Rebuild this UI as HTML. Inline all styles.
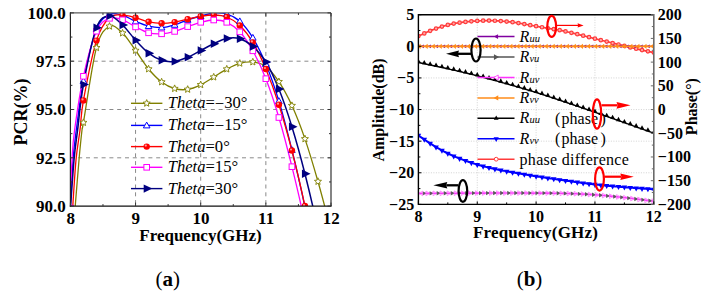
<!DOCTYPE html>
<html><head><meta charset="utf-8"><style>
html,body{margin:0;padding:0;background:#fff;}
body{width:709px;height:294px;overflow:hidden;}
svg{display:block;}
text{font-family:"Liberation Serif",serif;fill:#000;}
.bl{font-weight:bold;font-size:17px;}
.br{font-weight:bold;font-size:16px;}
.lg{font-size:16.6px;}
.ri{font-size:16px;font-style:italic;}
.rl{font-size:16px;}
.cap{font-family:"Liberation Serif",serif;font-size:21px;}
</style></head><body>
<svg width="709" height="294" viewBox="0 0 709 294">
<defs>
<clipPath id="clL"><rect x="70.40" y="12.90" width="260.60" height="193.20"/></clipPath>
<clipPath id="clR"><rect x="418.40" y="14.70" width="235.40" height="189.70"/></clipPath>
</defs>
<rect width="709" height="294" fill="#fff"/>
<g clip-path="url(#clL)">
<line x1="135.55" y1="12.90" x2="135.55" y2="206.10" stroke="#8a8a8a" stroke-width="1" stroke-dasharray="4,3.8"/>
<line x1="200.70" y1="12.90" x2="200.70" y2="206.10" stroke="#8a8a8a" stroke-width="1" stroke-dasharray="4,3.8"/>
<line x1="265.85" y1="12.90" x2="265.85" y2="206.10" stroke="#8a8a8a" stroke-width="1" stroke-dasharray="4,3.8"/>
<line x1="70.40" y1="61.20" x2="331.00" y2="61.20" stroke="#8a8a8a" stroke-width="1" stroke-dasharray="4,3.8"/>
<line x1="70.40" y1="109.50" x2="331.00" y2="109.50" stroke="#8a8a8a" stroke-width="1" stroke-dasharray="4,3.8"/>
<line x1="70.40" y1="157.80" x2="331.00" y2="157.80" stroke="#8a8a8a" stroke-width="1" stroke-dasharray="4,3.8"/>
<path d="M74.60,214.00 C75.33,205.00 77.77,174.00 79.00,160.00 C80.23,146.00 81.26,136.23 82.00,130.00 C82.74,123.77 81.02,136.32 83.43,122.60 C85.84,108.88 92.12,63.75 96.46,47.70 C100.80,31.65 105.15,28.73 109.49,26.30 C113.83,23.87 118.18,29.07 122.52,33.10 C126.86,37.13 131.21,44.52 135.55,50.50 C139.89,56.48 144.24,63.75 148.58,69.00 C152.92,74.25 157.27,78.73 161.61,82.00 C165.95,85.27 170.30,87.37 174.64,88.60 C178.98,89.83 183.33,90.03 187.67,89.40 C192.01,88.77 196.36,86.85 200.70,84.80 C205.04,82.75 209.39,79.72 213.73,77.10 C218.07,74.48 222.42,71.40 226.76,69.10 C231.10,66.80 235.45,64.48 239.79,63.30 C244.13,62.12 248.48,61.47 252.82,62.00 C257.16,62.53 261.51,63.22 265.85,66.50 C270.19,69.78 274.54,75.18 278.88,81.70 C283.22,88.22 287.57,96.07 291.91,105.60 C296.25,115.13 300.60,126.25 304.94,138.90 C309.28,151.55 313.63,166.32 317.97,181.50 C322.31,196.68 328.83,221.92 331.00,230.00" fill="none" stroke="#808000" stroke-width="1.3"/>
<path d="M70.00,214.00 C70.50,205.00 71.95,174.00 73.00,160.00 C74.05,146.00 74.56,143.17 76.30,130.00 C78.04,116.83 80.07,97.75 83.43,81.00 C86.79,64.25 92.12,40.58 96.46,29.50 C100.80,18.42 105.15,16.88 109.49,14.50 C113.83,12.12 118.18,14.05 122.52,15.20 C126.86,16.35 131.21,19.58 135.55,21.40 C139.89,23.22 144.24,25.08 148.58,26.10 C152.92,27.12 157.27,27.72 161.61,27.50 C165.95,27.28 170.30,26.08 174.64,24.80 C178.98,23.52 183.33,21.27 187.67,19.80 C192.01,18.33 196.36,17.13 200.70,16.00 C205.04,14.87 209.39,13.33 213.73,13.00 C218.07,12.67 222.42,12.63 226.76,14.00 C231.10,15.37 235.45,17.25 239.79,21.20 C244.13,25.15 248.48,30.57 252.82,37.70 C257.16,44.83 261.51,53.45 265.85,64.00 C270.19,74.55 274.54,86.67 278.88,101.00 C283.22,115.33 287.57,132.33 291.91,150.00 C296.25,167.67 300.60,186.17 304.94,207.00 C309.28,227.83 313.63,252.00 317.97,275.00 C322.31,298.00 328.83,333.33 331.00,345.00" fill="none" stroke="#0000ff" stroke-width="1.3"/>
<path d="M72.40,212.00 C73.00,203.33 74.73,173.67 76.00,160.00 C77.27,146.33 78.76,139.93 80.00,130.00 C81.24,120.07 80.69,115.30 83.43,100.40 C86.17,85.50 92.12,54.42 96.46,40.60 C100.80,26.78 105.15,21.75 109.49,17.50 C113.83,13.25 118.18,15.07 122.52,15.10 C126.86,15.13 131.21,16.58 135.55,17.70 C139.89,18.82 144.24,20.87 148.58,21.80 C152.92,22.73 157.27,23.25 161.61,23.30 C165.95,23.35 170.30,22.78 174.64,22.10 C178.98,21.42 183.33,20.17 187.67,19.20 C192.01,18.23 196.36,17.00 200.70,16.30 C205.04,15.60 209.39,14.88 213.73,15.00 C218.07,15.12 222.42,15.25 226.76,17.00 C231.10,18.75 235.45,21.27 239.79,25.50 C244.13,29.73 248.48,35.15 252.82,42.40 C257.16,49.65 261.51,58.62 265.85,69.00 C270.19,79.38 274.54,91.12 278.88,104.70 C283.22,118.28 287.57,133.62 291.91,150.50 C296.25,167.38 300.60,186.08 304.94,206.00 C309.28,225.92 313.63,247.67 317.97,270.00 C322.31,292.33 328.83,328.33 331.00,340.00" fill="none" stroke="#ff0000" stroke-width="1.3"/>
<path d="M69.60,214.00 C70.00,205.00 71.17,174.00 72.00,160.00 C72.83,146.00 72.69,143.95 74.60,130.00 C76.50,116.05 79.79,92.77 83.43,76.30 C87.07,59.83 92.12,40.87 96.46,31.20 C100.80,21.53 105.15,20.20 109.49,18.30 C113.83,16.40 118.18,18.37 122.52,19.80 C126.86,21.23 131.21,24.73 135.55,26.90 C139.89,29.07 144.24,31.65 148.58,32.80 C152.92,33.95 157.27,34.03 161.61,33.80 C165.95,33.57 170.30,32.60 174.64,31.40 C178.98,30.20 183.33,28.12 187.67,26.60 C192.01,25.08 196.36,23.40 200.70,22.30 C205.04,21.20 209.39,20.00 213.73,20.00 C218.07,20.00 222.42,20.33 226.76,22.30 C231.10,24.27 235.45,27.05 239.79,31.80 C244.13,36.55 248.48,42.98 252.82,50.80 C257.16,58.62 261.51,67.58 265.85,78.70 C270.19,89.82 274.54,102.83 278.88,117.50 C283.22,132.17 287.57,149.12 291.91,166.70 C296.25,184.28 300.60,202.45 304.94,223.00 C309.28,243.55 313.63,267.17 317.97,290.00 C322.31,312.83 328.83,348.33 331.00,360.00" fill="none" stroke="#ff00ff" stroke-width="1.3"/>
<path d="M70.20,212.00 C70.83,203.33 72.77,173.67 74.00,160.00 C75.23,146.33 76.03,142.57 77.60,130.00 C79.17,117.43 80.29,101.63 83.43,84.60 C86.57,67.57 92.12,39.25 96.46,27.80 C100.80,16.35 105.15,16.37 109.49,15.90 C113.83,15.43 118.18,20.95 122.52,25.00 C126.86,29.05 131.21,35.50 135.55,40.20 C139.89,44.90 144.24,49.85 148.58,53.20 C152.92,56.55 157.27,58.93 161.61,60.30 C165.95,61.67 170.30,61.90 174.64,61.40 C178.98,60.90 183.33,59.12 187.67,57.30 C192.01,55.48 196.36,52.77 200.70,50.50 C205.04,48.23 209.39,45.70 213.73,43.70 C218.07,41.70 222.42,39.32 226.76,38.50 C231.10,37.68 235.45,37.47 239.79,38.80 C244.13,40.13 248.48,42.63 252.82,46.50 C257.16,50.37 261.51,54.92 265.85,62.00 C270.19,69.08 274.54,78.22 278.88,89.00 C283.22,99.78 287.57,112.57 291.91,126.70 C296.25,140.83 300.60,156.58 304.94,173.80 C309.28,191.02 313.63,208.97 317.97,230.00 C322.31,251.03 328.83,288.33 331.00,300.00" fill="none" stroke="#000080" stroke-width="1.5"/>
<polygon points="83.43,118.90 84.41,121.25 86.95,121.46 85.01,123.11 85.60,125.59 83.43,124.27 81.26,125.59 81.85,123.11 79.91,121.46 82.45,121.25" fill="#fff" stroke="#808000" stroke-width="0.9"/>
<polygon points="96.46,44.00 97.44,46.35 99.98,46.56 98.04,48.21 98.63,50.69 96.46,49.37 94.29,50.69 94.88,48.21 92.94,46.56 95.48,46.35" fill="#fff" stroke="#808000" stroke-width="0.9"/>
<polygon points="109.49,22.60 110.47,24.95 113.01,25.16 111.07,26.81 111.66,29.29 109.49,27.96 107.32,29.29 107.91,26.81 105.97,25.16 108.51,24.95" fill="#fff" stroke="#808000" stroke-width="0.9"/>
<polygon points="122.52,29.40 123.50,31.75 126.04,31.96 124.10,33.61 124.69,36.09 122.52,34.77 120.35,36.09 120.94,33.61 119.00,31.96 121.54,31.75" fill="#fff" stroke="#808000" stroke-width="0.9"/>
<polygon points="135.55,46.80 136.53,49.15 139.07,49.36 137.13,51.01 137.72,53.49 135.55,52.16 133.38,53.49 133.97,51.01 132.03,49.36 134.57,49.15" fill="#fff" stroke="#808000" stroke-width="0.9"/>
<polygon points="148.58,65.30 149.56,67.65 152.10,67.86 150.16,69.51 150.75,71.99 148.58,70.67 146.41,71.99 147.00,69.51 145.06,67.86 147.60,67.65" fill="#fff" stroke="#808000" stroke-width="0.9"/>
<polygon points="161.61,78.30 162.59,80.65 165.13,80.86 163.19,82.51 163.78,84.99 161.61,83.67 159.44,84.99 160.03,82.51 158.09,80.86 160.63,80.65" fill="#fff" stroke="#808000" stroke-width="0.9"/>
<polygon points="174.64,84.90 175.62,87.25 178.16,87.46 176.22,89.11 176.81,91.59 174.64,90.27 172.47,91.59 173.06,89.11 171.12,87.46 173.66,87.25" fill="#fff" stroke="#808000" stroke-width="0.9"/>
<polygon points="187.67,85.70 188.65,88.05 191.19,88.26 189.25,89.91 189.84,92.39 187.67,91.07 185.50,92.39 186.09,89.91 184.15,88.26 186.69,88.05" fill="#fff" stroke="#808000" stroke-width="0.9"/>
<polygon points="200.70,81.10 201.68,83.45 204.22,83.66 202.28,85.31 202.87,87.79 200.70,86.47 198.53,87.79 199.12,85.31 197.18,83.66 199.72,83.45" fill="#fff" stroke="#808000" stroke-width="0.9"/>
<polygon points="213.73,73.40 214.71,75.75 217.25,75.96 215.31,77.61 215.90,80.09 213.73,78.77 211.56,80.09 212.15,77.61 210.21,75.96 212.75,75.75" fill="#fff" stroke="#808000" stroke-width="0.9"/>
<polygon points="226.76,65.40 227.74,67.75 230.28,67.96 228.34,69.61 228.93,72.09 226.76,70.77 224.59,72.09 225.18,69.61 223.24,67.96 225.78,67.75" fill="#fff" stroke="#808000" stroke-width="0.9"/>
<polygon points="239.79,59.60 240.77,61.95 243.31,62.16 241.37,63.81 241.96,66.29 239.79,64.97 237.62,66.29 238.21,63.81 236.27,62.16 238.81,61.95" fill="#fff" stroke="#808000" stroke-width="0.9"/>
<polygon points="252.82,58.30 253.80,60.65 256.34,60.86 254.40,62.51 254.99,64.99 252.82,63.66 250.65,64.99 251.24,62.51 249.30,60.86 251.84,60.65" fill="#fff" stroke="#808000" stroke-width="0.9"/>
<polygon points="265.85,62.80 266.83,65.15 269.37,65.36 267.43,67.01 268.02,69.49 265.85,68.17 263.68,69.49 264.27,67.01 262.33,65.36 264.87,65.15" fill="#fff" stroke="#808000" stroke-width="0.9"/>
<polygon points="278.88,78.00 279.86,80.35 282.40,80.56 280.46,82.21 281.05,84.69 278.88,83.37 276.71,84.69 277.30,82.21 275.36,80.56 277.90,80.35" fill="#fff" stroke="#808000" stroke-width="0.9"/>
<polygon points="291.91,101.90 292.89,104.25 295.43,104.46 293.49,106.11 294.08,108.59 291.91,107.27 289.74,108.59 290.33,106.11 288.39,104.46 290.93,104.25" fill="#fff" stroke="#808000" stroke-width="0.9"/>
<polygon points="304.94,135.20 305.92,137.55 308.46,137.76 306.52,139.41 307.11,141.89 304.94,140.56 302.77,141.89 303.36,139.41 301.42,137.76 303.96,137.55" fill="#fff" stroke="#808000" stroke-width="0.9"/>
<polygon points="317.97,177.80 318.95,180.15 321.49,180.36 319.55,182.01 320.14,184.49 317.97,183.16 315.80,184.49 316.39,182.01 314.45,180.36 316.99,180.15" fill="#fff" stroke="#808000" stroke-width="0.9"/>
<polygon points="70.40,206.70 67.10,212.47 73.70,212.47" fill="#fff" stroke="#0000ff" stroke-width="1"/>
<polygon points="83.43,77.70 80.13,83.47 86.73,83.47" fill="#fff" stroke="#0000ff" stroke-width="1"/>
<polygon points="96.46,26.20 93.16,31.98 99.76,31.98" fill="#fff" stroke="#0000ff" stroke-width="1"/>
<polygon points="109.49,11.20 106.19,16.98 112.79,16.98" fill="#fff" stroke="#0000ff" stroke-width="1"/>
<polygon points="122.52,11.90 119.22,17.67 125.82,17.67" fill="#fff" stroke="#0000ff" stroke-width="1"/>
<polygon points="135.55,18.10 132.25,23.88 138.85,23.88" fill="#fff" stroke="#0000ff" stroke-width="1"/>
<polygon points="148.58,22.80 145.28,28.58 151.88,28.58" fill="#fff" stroke="#0000ff" stroke-width="1"/>
<polygon points="161.61,24.20 158.31,29.98 164.91,29.98" fill="#fff" stroke="#0000ff" stroke-width="1"/>
<polygon points="174.64,21.50 171.34,27.27 177.94,27.27" fill="#fff" stroke="#0000ff" stroke-width="1"/>
<polygon points="187.67,16.50 184.37,22.27 190.97,22.27" fill="#fff" stroke="#0000ff" stroke-width="1"/>
<polygon points="200.70,12.70 197.40,18.48 204.00,18.48" fill="#fff" stroke="#0000ff" stroke-width="1"/>
<polygon points="213.73,9.70 210.43,15.47 217.03,15.47" fill="#fff" stroke="#0000ff" stroke-width="1"/>
<polygon points="226.76,10.70 223.46,16.48 230.06,16.48" fill="#fff" stroke="#0000ff" stroke-width="1"/>
<polygon points="239.79,17.90 236.49,23.67 243.09,23.67" fill="#fff" stroke="#0000ff" stroke-width="1"/>
<polygon points="252.82,34.40 249.52,40.18 256.12,40.18" fill="#fff" stroke="#0000ff" stroke-width="1"/>
<polygon points="265.85,60.70 262.55,66.47 269.15,66.47" fill="#fff" stroke="#0000ff" stroke-width="1"/>
<polygon points="278.88,97.70 275.58,103.47 282.18,103.47" fill="#fff" stroke="#0000ff" stroke-width="1"/>
<polygon points="291.91,146.70 288.61,152.47 295.21,152.47" fill="#fff" stroke="#0000ff" stroke-width="1"/>
<polygon points="304.94,203.70 301.64,209.47 308.24,209.47" fill="#fff" stroke="#0000ff" stroke-width="1"/>
<circle cx="83.43" cy="100.40" r="3.20" fill="#ff0000"/><circle cx="82.53" cy="99.40" r="1.1" fill="#ff9a9a"/>
<circle cx="96.46" cy="40.60" r="3.20" fill="#ff0000"/><circle cx="95.56" cy="39.60" r="1.1" fill="#ff9a9a"/>
<circle cx="109.49" cy="17.50" r="3.20" fill="#ff0000"/><circle cx="108.59" cy="16.50" r="1.1" fill="#ff9a9a"/>
<circle cx="122.52" cy="15.10" r="3.20" fill="#ff0000"/><circle cx="121.62" cy="14.10" r="1.1" fill="#ff9a9a"/>
<circle cx="135.55" cy="17.70" r="3.20" fill="#ff0000"/><circle cx="134.65" cy="16.70" r="1.1" fill="#ff9a9a"/>
<circle cx="148.58" cy="21.80" r="3.20" fill="#ff0000"/><circle cx="147.68" cy="20.80" r="1.1" fill="#ff9a9a"/>
<circle cx="161.61" cy="23.30" r="3.20" fill="#ff0000"/><circle cx="160.71" cy="22.30" r="1.1" fill="#ff9a9a"/>
<circle cx="174.64" cy="22.10" r="3.20" fill="#ff0000"/><circle cx="173.74" cy="21.10" r="1.1" fill="#ff9a9a"/>
<circle cx="187.67" cy="19.20" r="3.20" fill="#ff0000"/><circle cx="186.77" cy="18.20" r="1.1" fill="#ff9a9a"/>
<circle cx="200.70" cy="16.30" r="3.20" fill="#ff0000"/><circle cx="199.80" cy="15.30" r="1.1" fill="#ff9a9a"/>
<circle cx="213.73" cy="15.00" r="3.20" fill="#ff0000"/><circle cx="212.83" cy="14.00" r="1.1" fill="#ff9a9a"/>
<circle cx="226.76" cy="17.00" r="3.20" fill="#ff0000"/><circle cx="225.86" cy="16.00" r="1.1" fill="#ff9a9a"/>
<circle cx="239.79" cy="25.50" r="3.20" fill="#ff0000"/><circle cx="238.89" cy="24.50" r="1.1" fill="#ff9a9a"/>
<circle cx="252.82" cy="42.40" r="3.20" fill="#ff0000"/><circle cx="251.92" cy="41.40" r="1.1" fill="#ff9a9a"/>
<circle cx="265.85" cy="69.00" r="3.20" fill="#ff0000"/><circle cx="264.95" cy="68.00" r="1.1" fill="#ff9a9a"/>
<circle cx="278.88" cy="104.70" r="3.20" fill="#ff0000"/><circle cx="277.98" cy="103.70" r="1.1" fill="#ff9a9a"/>
<circle cx="291.91" cy="150.50" r="3.20" fill="#ff0000"/><circle cx="291.01" cy="149.50" r="1.1" fill="#ff9a9a"/>
<circle cx="304.94" cy="206.00" r="3.20" fill="#ff0000"/><circle cx="304.04" cy="205.00" r="1.1" fill="#ff9a9a"/>
<rect x="67.60" y="205.20" width="5.60" height="5.60" fill="#fff" stroke="#ff00ff" stroke-width="1"/>
<rect x="80.63" y="73.50" width="5.60" height="5.60" fill="#fff" stroke="#ff00ff" stroke-width="1"/>
<rect x="93.66" y="28.40" width="5.60" height="5.60" fill="#fff" stroke="#ff00ff" stroke-width="1"/>
<rect x="106.69" y="15.50" width="5.60" height="5.60" fill="#fff" stroke="#ff00ff" stroke-width="1"/>
<rect x="119.72" y="17.00" width="5.60" height="5.60" fill="#fff" stroke="#ff00ff" stroke-width="1"/>
<rect x="132.75" y="24.10" width="5.60" height="5.60" fill="#fff" stroke="#ff00ff" stroke-width="1"/>
<rect x="145.78" y="30.00" width="5.60" height="5.60" fill="#fff" stroke="#ff00ff" stroke-width="1"/>
<rect x="158.81" y="31.00" width="5.60" height="5.60" fill="#fff" stroke="#ff00ff" stroke-width="1"/>
<rect x="171.84" y="28.60" width="5.60" height="5.60" fill="#fff" stroke="#ff00ff" stroke-width="1"/>
<rect x="184.87" y="23.80" width="5.60" height="5.60" fill="#fff" stroke="#ff00ff" stroke-width="1"/>
<rect x="197.90" y="19.50" width="5.60" height="5.60" fill="#fff" stroke="#ff00ff" stroke-width="1"/>
<rect x="210.93" y="17.20" width="5.60" height="5.60" fill="#fff" stroke="#ff00ff" stroke-width="1"/>
<rect x="223.96" y="19.50" width="5.60" height="5.60" fill="#fff" stroke="#ff00ff" stroke-width="1"/>
<rect x="236.99" y="29.00" width="5.60" height="5.60" fill="#fff" stroke="#ff00ff" stroke-width="1"/>
<rect x="250.02" y="48.00" width="5.60" height="5.60" fill="#fff" stroke="#ff00ff" stroke-width="1"/>
<rect x="263.05" y="75.90" width="5.60" height="5.60" fill="#fff" stroke="#ff00ff" stroke-width="1"/>
<rect x="276.08" y="114.70" width="5.60" height="5.60" fill="#fff" stroke="#ff00ff" stroke-width="1"/>
<rect x="289.11" y="163.90" width="5.60" height="5.60" fill="#fff" stroke="#ff00ff" stroke-width="1"/>
<polygon points="67.40,203.80 67.40,212.20 76.01,208.00" fill="#000080"/>
<polygon points="80.43,80.40 80.43,88.80 89.04,84.60" fill="#000080"/>
<polygon points="93.46,23.60 93.46,32.00 102.07,27.80" fill="#000080"/>
<polygon points="106.49,11.70 106.49,20.10 115.10,15.90" fill="#000080"/>
<polygon points="119.52,20.80 119.52,29.20 128.13,25.00" fill="#000080"/>
<polygon points="132.55,36.00 132.55,44.40 141.16,40.20" fill="#000080"/>
<polygon points="145.58,49.00 145.58,57.40 154.19,53.20" fill="#000080"/>
<polygon points="158.61,56.10 158.61,64.50 167.22,60.30" fill="#000080"/>
<polygon points="171.64,57.20 171.64,65.60 180.25,61.40" fill="#000080"/>
<polygon points="184.67,53.10 184.67,61.50 193.28,57.30" fill="#000080"/>
<polygon points="197.70,46.30 197.70,54.70 206.31,50.50" fill="#000080"/>
<polygon points="210.73,39.50 210.73,47.90 219.34,43.70" fill="#000080"/>
<polygon points="223.76,34.30 223.76,42.70 232.37,38.50" fill="#000080"/>
<polygon points="236.79,34.60 236.79,43.00 245.40,38.80" fill="#000080"/>
<polygon points="249.82,42.30 249.82,50.70 258.43,46.50" fill="#000080"/>
<polygon points="262.85,57.80 262.85,66.20 271.46,62.00" fill="#000080"/>
<polygon points="275.88,84.80 275.88,93.20 284.49,89.00" fill="#000080"/>
<polygon points="288.91,122.50 288.91,130.90 297.52,126.70" fill="#000080"/>
<polygon points="301.94,169.60 301.94,178.00 310.55,173.80" fill="#000080"/>
</g>
<line x1="70.40" y1="12.90" x2="331.00" y2="12.90" stroke="#5a5a5a" stroke-width="1.3"/>
<line x1="331.00" y1="12.90" x2="331.00" y2="206.10" stroke="#333" stroke-width="1.2"/>
<line x1="70.40" y1="12.30" x2="70.40" y2="206.70" stroke="#222" stroke-width="1.2"/>
<line x1="69.80" y1="206.10" x2="331.60" y2="206.10" stroke="#111" stroke-width="1.3"/>
<line x1="70.40" y1="206.10" x2="70.40" y2="202.60" stroke="#333" stroke-width="1"/>
<line x1="70.40" y1="12.90" x2="70.40" y2="16.40" stroke="#333" stroke-width="1"/>
<line x1="102.98" y1="206.10" x2="102.98" y2="204.10" stroke="#333" stroke-width="1"/>
<line x1="102.98" y1="12.90" x2="102.98" y2="14.90" stroke="#333" stroke-width="1"/>
<line x1="135.55" y1="206.10" x2="135.55" y2="202.60" stroke="#333" stroke-width="1"/>
<line x1="135.55" y1="12.90" x2="135.55" y2="16.40" stroke="#333" stroke-width="1"/>
<line x1="168.12" y1="206.10" x2="168.12" y2="204.10" stroke="#333" stroke-width="1"/>
<line x1="168.12" y1="12.90" x2="168.12" y2="14.90" stroke="#333" stroke-width="1"/>
<line x1="200.70" y1="206.10" x2="200.70" y2="202.60" stroke="#333" stroke-width="1"/>
<line x1="200.70" y1="12.90" x2="200.70" y2="16.40" stroke="#333" stroke-width="1"/>
<line x1="233.28" y1="206.10" x2="233.28" y2="204.10" stroke="#333" stroke-width="1"/>
<line x1="233.28" y1="12.90" x2="233.28" y2="14.90" stroke="#333" stroke-width="1"/>
<line x1="265.85" y1="206.10" x2="265.85" y2="202.60" stroke="#333" stroke-width="1"/>
<line x1="265.85" y1="12.90" x2="265.85" y2="16.40" stroke="#333" stroke-width="1"/>
<line x1="298.43" y1="206.10" x2="298.43" y2="204.10" stroke="#333" stroke-width="1"/>
<line x1="298.43" y1="12.90" x2="298.43" y2="14.90" stroke="#333" stroke-width="1"/>
<line x1="331.00" y1="206.10" x2="331.00" y2="202.60" stroke="#333" stroke-width="1"/>
<line x1="331.00" y1="12.90" x2="331.00" y2="16.40" stroke="#333" stroke-width="1"/>
<line x1="70.40" y1="206.10" x2="73.90" y2="206.10" stroke="#333" stroke-width="1"/>
<line x1="331.00" y1="206.10" x2="327.50" y2="206.10" stroke="#333" stroke-width="1"/>
<line x1="70.40" y1="181.95" x2="72.40" y2="181.95" stroke="#333" stroke-width="1"/>
<line x1="331.00" y1="181.95" x2="329.00" y2="181.95" stroke="#333" stroke-width="1"/>
<line x1="70.40" y1="157.80" x2="73.90" y2="157.80" stroke="#333" stroke-width="1"/>
<line x1="331.00" y1="157.80" x2="327.50" y2="157.80" stroke="#333" stroke-width="1"/>
<line x1="70.40" y1="133.65" x2="72.40" y2="133.65" stroke="#333" stroke-width="1"/>
<line x1="331.00" y1="133.65" x2="329.00" y2="133.65" stroke="#333" stroke-width="1"/>
<line x1="70.40" y1="109.50" x2="73.90" y2="109.50" stroke="#333" stroke-width="1"/>
<line x1="331.00" y1="109.50" x2="327.50" y2="109.50" stroke="#333" stroke-width="1"/>
<line x1="70.40" y1="85.35" x2="72.40" y2="85.35" stroke="#333" stroke-width="1"/>
<line x1="331.00" y1="85.35" x2="329.00" y2="85.35" stroke="#333" stroke-width="1"/>
<line x1="70.40" y1="61.20" x2="73.90" y2="61.20" stroke="#333" stroke-width="1"/>
<line x1="331.00" y1="61.20" x2="327.50" y2="61.20" stroke="#333" stroke-width="1"/>
<line x1="70.40" y1="37.05" x2="72.40" y2="37.05" stroke="#333" stroke-width="1"/>
<line x1="331.00" y1="37.05" x2="329.00" y2="37.05" stroke="#333" stroke-width="1"/>
<line x1="70.40" y1="12.90" x2="73.90" y2="12.90" stroke="#333" stroke-width="1"/>
<line x1="331.00" y1="12.90" x2="327.50" y2="12.90" stroke="#333" stroke-width="1"/>
<text x="65.8" y="18.70" text-anchor="end" class="bl">100.0</text>
<text x="65.8" y="67.00" text-anchor="end" class="bl">97.5</text>
<text x="65.8" y="115.30" text-anchor="end" class="bl">95.0</text>
<text x="65.8" y="163.60" text-anchor="end" class="bl">92.5</text>
<text x="65.8" y="211.90" text-anchor="end" class="bl">90.0</text>
<text x="70.70" y="224" text-anchor="middle" class="bl">8</text>
<text x="135.85" y="224" text-anchor="middle" class="bl">9</text>
<text x="201.00" y="224" text-anchor="middle" class="bl">10</text>
<text x="266.15" y="224" text-anchor="middle" class="bl">11</text>
<text x="331.30" y="224" text-anchor="middle" class="bl">12</text>
<text x="200.5" y="241.2" text-anchor="middle" class="bl">Frequency(GHz)</text>
<text transform="translate(27.0,112) rotate(-90)" text-anchor="middle" class="bl" style="font-size:18px">PCR(%)</text>
<line x1="131" y1="103.30" x2="162.4" y2="103.30" stroke="#808000" stroke-width="1.4"/>
<polygon points="146.70,99.60 147.68,101.95 150.22,102.16 148.28,103.81 148.87,106.29 146.70,104.97 144.53,106.29 145.12,103.81 143.18,102.16 145.72,101.95" fill="#fff" stroke="#808000" stroke-width="0.9"/>
<text x="167.7" y="108.20" class="lg"><tspan font-style="italic">Theta</tspan>=<tspan dy="1.1">−</tspan><tspan dy="-1.1">30</tspan>°</text>
<line x1="131" y1="125.40" x2="162.4" y2="125.40" stroke="#0000ff" stroke-width="1.4"/>
<polygon points="146.70,122.10 143.40,127.88 150.00,127.88" fill="#fff" stroke="#0000ff" stroke-width="1"/>
<text x="167.7" y="130.30" class="lg"><tspan font-style="italic">Theta</tspan>=<tspan dy="1.1">−</tspan><tspan dy="-1.1">15</tspan>°</text>
<line x1="131" y1="146.60" x2="162.4" y2="146.60" stroke="#ff0000" stroke-width="1.4"/>
<circle cx="146.70" cy="146.60" r="3.20" fill="#ff0000"/><circle cx="145.80" cy="145.60" r="1.1" fill="#ff9a9a"/>
<text x="167.7" y="151.50" class="lg"><tspan font-style="italic">Theta</tspan>=0°</text>
<line x1="131" y1="167.30" x2="162.4" y2="167.30" stroke="#ff00ff" stroke-width="1.4"/>
<rect x="143.90" y="164.50" width="5.60" height="5.60" fill="#fff" stroke="#ff00ff" stroke-width="1"/>
<text x="167.7" y="172.20" class="lg"><tspan font-style="italic">Theta</tspan>=15°</text>
<line x1="131" y1="188.60" x2="162.4" y2="188.60" stroke="#000080" stroke-width="1.4"/>
<polygon points="143.70,184.40 143.70,192.80 152.31,188.60" fill="#000080"/>
<text x="167.7" y="193.50" class="lg"><tspan font-style="italic">Theta</tspan>=30°</text>
<g clip-path="url(#clR)">
<line x1="477.25" y1="14.70" x2="477.25" y2="204.40" stroke="#c8c8c8" stroke-width="0.8" stroke-dasharray="1,1.5"/>
<line x1="536.10" y1="14.70" x2="536.10" y2="204.40" stroke="#c8c8c8" stroke-width="0.8" stroke-dasharray="1,1.5"/>
<line x1="594.95" y1="14.70" x2="594.95" y2="204.40" stroke="#c8c8c8" stroke-width="0.8" stroke-dasharray="1,1.5"/>
<line x1="418.40" y1="46.32" x2="653.80" y2="46.32" stroke="#c8c8c8" stroke-width="0.8" stroke-dasharray="1,1.5"/>
<line x1="418.40" y1="77.93" x2="653.80" y2="77.93" stroke="#c8c8c8" stroke-width="0.8" stroke-dasharray="1,1.5"/>
<line x1="418.40" y1="109.55" x2="653.80" y2="109.55" stroke="#c8c8c8" stroke-width="0.8" stroke-dasharray="1,1.5"/>
<line x1="418.40" y1="141.17" x2="653.80" y2="141.17" stroke="#c8c8c8" stroke-width="0.8" stroke-dasharray="1,1.5"/>
<line x1="418.40" y1="172.78" x2="653.80" y2="172.78" stroke="#c8c8c8" stroke-width="0.8" stroke-dasharray="1,1.5"/>
<path d="M418.40,36.10 L419.58,35.57 L420.75,35.02 L421.93,34.48 L423.11,33.93 L424.28,33.38 L425.46,32.84 L426.64,32.31 L427.82,31.79 L428.99,31.29 L430.17,30.80 L431.35,30.33 L432.52,29.87 L433.70,29.42 L434.88,28.98 L436.05,28.56 L437.23,28.14 L438.41,27.74 L439.59,27.35 L440.76,26.97 L441.94,26.60 L443.12,26.25 L444.29,25.90 L445.47,25.57 L446.65,25.25 L447.82,24.94 L449.00,24.65 L450.18,24.37 L451.36,24.10 L452.53,23.84 L453.71,23.60 L454.89,23.37 L456.06,23.17 L457.24,22.97 L458.42,22.79 L459.59,22.63 L460.77,22.47 L461.95,22.32 L463.13,22.17 L464.30,22.04 L465.48,21.90 L466.66,21.77 L467.83,21.64 L469.01,21.53 L470.19,21.42 L471.36,21.31 L472.54,21.22 L473.72,21.13 L474.90,21.04 L476.07,20.97 L477.25,20.90 L478.43,20.84 L479.60,20.78 L480.78,20.73 L481.96,20.69 L483.13,20.66 L484.31,20.63 L485.49,20.61 L486.67,20.60 L487.84,20.59 L489.02,20.60 L490.20,20.61 L491.37,20.64 L492.55,20.67 L493.73,20.71 L494.90,20.76 L496.08,20.82 L497.26,20.88 L498.44,20.95 L499.61,21.02 L500.79,21.10 L501.97,21.18 L503.14,21.27 L504.32,21.36 L505.50,21.46 L506.67,21.56 L507.85,21.67 L509.03,21.79 L510.21,21.92 L511.38,22.05 L512.56,22.20 L513.74,22.36 L514.91,22.53 L516.09,22.70 L517.27,22.89 L518.44,23.09 L519.62,23.29 L520.80,23.49 L521.98,23.69 L523.15,23.90 L524.33,24.10 L525.51,24.30 L526.68,24.51 L527.86,24.72 L529.04,24.93 L530.21,25.14 L531.39,25.35 L532.57,25.56 L533.75,25.78 L534.92,25.99 L536.10,26.20 L537.28,26.41 L538.45,26.62 L539.63,26.84 L540.81,27.05 L541.98,27.26 L543.16,27.47 L544.34,27.68 L545.52,27.89 L546.69,28.10 L547.87,28.30 L549.05,28.49 L550.22,28.68 L551.40,28.86 L552.58,29.04 L553.75,29.22 L554.93,29.40 L556.11,29.58 L557.29,29.78 L558.46,29.98 L559.64,30.20 L560.82,30.43 L561.99,30.67 L563.17,30.92 L564.35,31.18 L565.52,31.44 L566.70,31.70 L567.88,31.98 L569.06,32.25 L570.23,32.52 L571.41,32.80 L572.59,33.08 L573.76,33.36 L574.94,33.64 L576.12,33.93 L577.29,34.22 L578.47,34.52 L579.65,34.81 L580.83,35.11 L582.00,35.40 L583.18,35.70 L584.36,36.00 L585.53,36.30 L586.71,36.60 L587.89,36.90 L589.06,37.20 L590.24,37.50 L591.42,37.80 L592.60,38.10 L593.77,38.40 L594.95,38.70 L596.13,38.99 L597.30,39.29 L598.48,39.58 L599.66,39.87 L600.83,40.16 L602.01,40.44 L603.19,40.73 L604.37,41.02 L605.54,41.31 L606.72,41.60 L607.90,41.89 L609.07,42.18 L610.25,42.47 L611.43,42.76 L612.60,43.05 L613.78,43.34 L614.96,43.63 L616.14,43.92 L617.31,44.21 L618.49,44.50 L619.67,44.79 L620.84,45.08 L622.02,45.38 L623.20,45.67 L624.37,45.96 L625.55,46.25 L626.73,46.54 L627.91,46.83 L629.08,47.12 L630.26,47.40 L631.44,47.68 L632.61,47.96 L633.79,48.23 L634.97,48.50 L636.14,48.77 L637.32,49.04 L638.50,49.31 L639.68,49.58 L640.85,49.84 L642.03,50.10 L643.21,50.36 L644.38,50.61 L645.56,50.86 L646.74,51.11 L647.91,51.36 L649.09,51.61 L650.27,51.86 L651.45,52.10 L652.62,52.35 L653.80,52.60" fill="none" stroke="#ff3b3b" stroke-width="1.7"/>
<circle cx="418.40" cy="36.10" r="1.75" fill="#ffa8a8" stroke="#ff3b3b" stroke-width="1.2"/>
<circle cx="424.28" cy="33.38" r="1.75" fill="#ffa8a8" stroke="#ff3b3b" stroke-width="1.2"/>
<circle cx="430.17" cy="30.80" r="1.75" fill="#ffa8a8" stroke="#ff3b3b" stroke-width="1.2"/>
<circle cx="436.06" cy="28.56" r="1.75" fill="#ffa8a8" stroke="#ff3b3b" stroke-width="1.2"/>
<circle cx="441.94" cy="26.60" r="1.75" fill="#ffa8a8" stroke="#ff3b3b" stroke-width="1.2"/>
<circle cx="447.82" cy="24.94" r="1.75" fill="#ffa8a8" stroke="#ff3b3b" stroke-width="1.2"/>
<circle cx="453.71" cy="23.60" r="1.75" fill="#ffa8a8" stroke="#ff3b3b" stroke-width="1.2"/>
<circle cx="459.59" cy="22.63" r="1.75" fill="#ffa8a8" stroke="#ff3b3b" stroke-width="1.2"/>
<circle cx="465.48" cy="21.90" r="1.75" fill="#ffa8a8" stroke="#ff3b3b" stroke-width="1.2"/>
<circle cx="471.37" cy="21.31" r="1.75" fill="#ffa8a8" stroke="#ff3b3b" stroke-width="1.2"/>
<circle cx="477.25" cy="20.90" r="1.75" fill="#ffa8a8" stroke="#ff3b3b" stroke-width="1.2"/>
<circle cx="483.13" cy="20.66" r="1.75" fill="#ffa8a8" stroke="#ff3b3b" stroke-width="1.2"/>
<circle cx="489.02" cy="20.60" r="1.75" fill="#ffa8a8" stroke="#ff3b3b" stroke-width="1.2"/>
<circle cx="494.91" cy="20.76" r="1.75" fill="#ffa8a8" stroke="#ff3b3b" stroke-width="1.2"/>
<circle cx="500.79" cy="21.10" r="1.75" fill="#ffa8a8" stroke="#ff3b3b" stroke-width="1.2"/>
<circle cx="506.67" cy="21.56" r="1.75" fill="#ffa8a8" stroke="#ff3b3b" stroke-width="1.2"/>
<circle cx="512.56" cy="22.20" r="1.75" fill="#ffa8a8" stroke="#ff3b3b" stroke-width="1.2"/>
<circle cx="518.44" cy="23.09" r="1.75" fill="#ffa8a8" stroke="#ff3b3b" stroke-width="1.2"/>
<circle cx="524.33" cy="24.10" r="1.75" fill="#ffa8a8" stroke="#ff3b3b" stroke-width="1.2"/>
<circle cx="530.22" cy="25.14" r="1.75" fill="#ffa8a8" stroke="#ff3b3b" stroke-width="1.2"/>
<circle cx="536.10" cy="26.20" r="1.75" fill="#ffa8a8" stroke="#ff3b3b" stroke-width="1.2"/>
<circle cx="541.98" cy="27.26" r="1.75" fill="#ffa8a8" stroke="#ff3b3b" stroke-width="1.2"/>
<circle cx="547.87" cy="28.30" r="1.75" fill="#ffa8a8" stroke="#ff3b3b" stroke-width="1.2"/>
<circle cx="553.75" cy="29.22" r="1.75" fill="#ffa8a8" stroke="#ff3b3b" stroke-width="1.2"/>
<circle cx="559.64" cy="30.20" r="1.75" fill="#ffa8a8" stroke="#ff3b3b" stroke-width="1.2"/>
<circle cx="565.52" cy="31.44" r="1.75" fill="#ffa8a8" stroke="#ff3b3b" stroke-width="1.2"/>
<circle cx="571.41" cy="32.80" r="1.75" fill="#ffa8a8" stroke="#ff3b3b" stroke-width="1.2"/>
<circle cx="577.29" cy="34.22" r="1.75" fill="#ffa8a8" stroke="#ff3b3b" stroke-width="1.2"/>
<circle cx="583.18" cy="35.70" r="1.75" fill="#ffa8a8" stroke="#ff3b3b" stroke-width="1.2"/>
<circle cx="589.06" cy="37.20" r="1.75" fill="#ffa8a8" stroke="#ff3b3b" stroke-width="1.2"/>
<circle cx="594.95" cy="38.70" r="1.75" fill="#ffa8a8" stroke="#ff3b3b" stroke-width="1.2"/>
<circle cx="600.83" cy="40.16" r="1.75" fill="#ffa8a8" stroke="#ff3b3b" stroke-width="1.2"/>
<circle cx="606.72" cy="41.60" r="1.75" fill="#ffa8a8" stroke="#ff3b3b" stroke-width="1.2"/>
<circle cx="612.61" cy="43.05" r="1.75" fill="#ffa8a8" stroke="#ff3b3b" stroke-width="1.2"/>
<circle cx="618.49" cy="44.50" r="1.75" fill="#ffa8a8" stroke="#ff3b3b" stroke-width="1.2"/>
<circle cx="624.38" cy="45.96" r="1.75" fill="#ffa8a8" stroke="#ff3b3b" stroke-width="1.2"/>
<circle cx="630.26" cy="47.40" r="1.75" fill="#ffa8a8" stroke="#ff3b3b" stroke-width="1.2"/>
<circle cx="636.14" cy="48.77" r="1.75" fill="#ffa8a8" stroke="#ff3b3b" stroke-width="1.2"/>
<circle cx="642.03" cy="50.10" r="1.75" fill="#ffa8a8" stroke="#ff3b3b" stroke-width="1.2"/>
<circle cx="647.91" cy="51.36" r="1.75" fill="#ffa8a8" stroke="#ff3b3b" stroke-width="1.2"/>
<circle cx="653.80" cy="52.60" r="1.75" fill="#ffa8a8" stroke="#ff3b3b" stroke-width="1.2"/>
<path d="M418.40,62.50 L419.58,62.75 L420.75,63.00 L421.93,63.25 L423.11,63.50 L424.28,63.75 L425.46,64.00 L426.64,64.24 L427.82,64.49 L428.99,64.74 L430.17,64.99 L431.35,65.23 L432.52,65.48 L433.70,65.73 L434.88,65.98 L436.05,66.23 L437.23,66.48 L438.41,66.73 L439.59,66.99 L440.76,67.24 L441.94,67.50 L443.12,67.75 L444.29,68.01 L445.47,68.27 L446.65,68.54 L447.82,68.80 L449.00,69.07 L450.18,69.33 L451.36,69.60 L452.53,69.87 L453.71,70.14 L454.89,70.41 L456.06,70.68 L457.24,70.95 L458.42,71.23 L459.59,71.50 L460.77,71.78 L461.95,72.05 L463.13,72.33 L464.30,72.61 L465.48,72.89 L466.66,73.18 L467.83,73.46 L469.01,73.75 L470.19,74.04 L471.36,74.32 L472.54,74.62 L473.72,74.91 L474.90,75.20 L476.07,75.50 L477.25,75.80 L478.43,76.10 L479.60,76.40 L480.78,76.71 L481.96,77.02 L483.13,77.32 L484.31,77.64 L485.49,77.95 L486.67,78.26 L487.84,78.58 L489.02,78.89 L490.20,79.21 L491.37,79.53 L492.55,79.85 L493.73,80.18 L494.90,80.50 L496.08,80.83 L497.26,81.15 L498.44,81.48 L499.61,81.81 L500.79,82.14 L501.97,82.47 L503.14,82.80 L504.32,83.13 L505.50,83.47 L506.67,83.80 L507.85,84.13 L509.03,84.47 L510.21,84.81 L511.38,85.14 L512.56,85.48 L513.74,85.82 L514.91,86.16 L516.09,86.50 L517.27,86.84 L518.44,87.18 L519.62,87.53 L520.80,87.87 L521.98,88.22 L523.15,88.57 L524.33,88.91 L525.51,89.27 L526.68,89.62 L527.86,89.97 L529.04,90.33 L530.21,90.68 L531.39,91.04 L532.57,91.41 L533.75,91.77 L534.92,92.13 L536.10,92.50 L537.28,92.87 L538.45,93.24 L539.63,93.62 L540.81,93.99 L541.98,94.37 L543.16,94.75 L544.34,95.13 L545.52,95.52 L546.69,95.90 L547.87,96.29 L549.05,96.68 L550.22,97.07 L551.40,97.46 L552.58,97.85 L553.75,98.24 L554.93,98.64 L556.11,99.03 L557.29,99.43 L558.46,99.82 L559.64,100.22 L560.82,100.61 L561.99,101.01 L563.17,101.41 L564.35,101.80 L565.52,102.20 L566.70,102.60 L567.88,102.99 L569.06,103.39 L570.23,103.79 L571.41,104.19 L572.59,104.59 L573.76,104.99 L574.94,105.39 L576.12,105.79 L577.29,106.20 L578.47,106.60 L579.65,107.00 L580.83,107.41 L582.00,107.81 L583.18,108.22 L584.36,108.63 L585.53,109.03 L586.71,109.44 L587.89,109.85 L589.06,110.25 L590.24,110.66 L591.42,111.07 L592.60,111.48 L593.77,111.89 L594.95,112.30 L596.13,112.71 L597.30,113.12 L598.48,113.53 L599.66,113.95 L600.83,114.36 L602.01,114.77 L603.19,115.19 L604.37,115.60 L605.54,116.02 L606.72,116.43 L607.90,116.85 L609.07,117.27 L610.25,117.68 L611.43,118.10 L612.60,118.52 L613.78,118.94 L614.96,119.35 L616.14,119.77 L617.31,120.19 L618.49,120.61 L619.67,121.03 L620.84,121.45 L622.02,121.86 L623.20,122.28 L624.37,122.70 L625.55,123.12 L626.73,123.54 L627.91,123.96 L629.08,124.37 L630.26,124.79 L631.44,125.21 L632.61,125.63 L633.79,126.05 L634.97,126.47 L636.14,126.89 L637.32,127.31 L638.50,127.73 L639.68,128.15 L640.85,128.57 L642.03,129.00 L643.21,129.42 L644.38,129.84 L645.56,130.26 L646.74,130.68 L647.91,131.10 L649.09,131.52 L650.27,131.94 L651.45,132.36 L652.62,132.78 L653.80,133.20" fill="none" stroke="#000" stroke-width="1.4"/>
<polygon points="418.40,58.70 416.00,63.02 420.80,63.02" fill="#000"/>
<polygon points="424.28,59.95 421.88,64.27 426.68,64.27" fill="#000"/>
<polygon points="430.17,61.19 427.77,65.51 432.57,65.51" fill="#000"/>
<polygon points="436.06,62.43 433.66,66.75 438.45,66.75" fill="#000"/>
<polygon points="441.94,63.70 439.54,68.02 444.34,68.02" fill="#000"/>
<polygon points="447.82,65.00 445.43,69.32 450.22,69.32" fill="#000"/>
<polygon points="453.71,66.34 451.31,70.66 456.11,70.66" fill="#000"/>
<polygon points="459.59,67.70 457.19,72.02 461.99,72.02" fill="#000"/>
<polygon points="465.48,69.09 463.08,73.41 467.88,73.41" fill="#000"/>
<polygon points="471.37,70.52 468.97,74.84 473.76,74.84" fill="#000"/>
<polygon points="477.25,72.00 474.85,76.32 479.65,76.32" fill="#000"/>
<polygon points="483.13,73.52 480.73,77.84 485.53,77.84" fill="#000"/>
<polygon points="489.02,75.09 486.62,79.41 491.42,79.41" fill="#000"/>
<polygon points="494.91,76.70 492.51,81.02 497.31,81.02" fill="#000"/>
<polygon points="500.79,78.34 498.39,82.66 503.19,82.66" fill="#000"/>
<polygon points="506.67,80.00 504.27,84.32 509.07,84.32" fill="#000"/>
<polygon points="512.56,81.68 510.16,86.00 514.96,86.00" fill="#000"/>
<polygon points="518.44,83.38 516.04,87.70 520.84,87.70" fill="#000"/>
<polygon points="524.33,85.11 521.93,89.43 526.73,89.43" fill="#000"/>
<polygon points="530.22,86.88 527.82,91.20 532.62,91.20" fill="#000"/>
<polygon points="536.10,88.70 533.70,93.02 538.50,93.02" fill="#000"/>
<polygon points="541.98,90.57 539.58,94.89 544.38,94.89" fill="#000"/>
<polygon points="547.87,92.49 545.47,96.81 550.27,96.81" fill="#000"/>
<polygon points="553.75,94.44 551.36,98.76 556.15,98.76" fill="#000"/>
<polygon points="559.64,96.42 557.24,100.74 562.04,100.74" fill="#000"/>
<polygon points="565.52,98.40 563.12,102.72 567.92,102.72" fill="#000"/>
<polygon points="571.41,100.39 569.01,104.71 573.81,104.71" fill="#000"/>
<polygon points="577.29,102.40 574.89,106.72 579.69,106.72" fill="#000"/>
<polygon points="583.18,104.42 580.78,108.74 585.58,108.74" fill="#000"/>
<polygon points="589.06,106.45 586.66,110.77 591.46,110.77" fill="#000"/>
<polygon points="594.95,108.50 592.55,112.82 597.35,112.82" fill="#000"/>
<polygon points="600.83,110.56 598.43,114.88 603.23,114.88" fill="#000"/>
<polygon points="606.72,112.63 604.32,116.95 609.12,116.95" fill="#000"/>
<polygon points="612.61,114.72 610.21,119.04 615.00,119.04" fill="#000"/>
<polygon points="618.49,116.81 616.09,121.13 620.89,121.13" fill="#000"/>
<polygon points="624.38,118.90 621.98,123.22 626.77,123.22" fill="#000"/>
<polygon points="630.26,120.99 627.86,125.31 632.66,125.31" fill="#000"/>
<polygon points="636.14,123.09 633.75,127.41 638.54,127.41" fill="#000"/>
<polygon points="642.03,125.20 639.63,129.52 644.43,129.52" fill="#000"/>
<polygon points="647.91,127.30 645.51,131.62 650.31,131.62" fill="#000"/>
<polygon points="653.80,129.40 651.40,133.72 656.20,133.72" fill="#000"/>
<path d="M418.40,135.50 L419.58,136.28 L420.75,137.07 L421.93,137.86 L423.11,138.66 L424.28,139.46 L425.46,140.26 L426.64,141.06 L427.82,141.86 L428.99,142.65 L430.17,143.43 L431.35,144.19 L432.52,144.95 L433.70,145.68 L434.88,146.40 L436.05,147.10 L437.23,147.78 L438.41,148.45 L439.59,149.11 L440.76,149.76 L441.94,150.40 L443.12,151.03 L444.29,151.65 L445.47,152.25 L446.65,152.84 L447.82,153.42 L449.00,153.98 L450.18,154.53 L451.36,155.07 L452.53,155.59 L453.71,156.10 L454.89,156.60 L456.06,157.08 L457.24,157.57 L458.42,158.04 L459.59,158.50 L460.77,158.96 L461.95,159.41 L463.13,159.86 L464.30,160.29 L465.48,160.72 L466.66,161.14 L467.83,161.55 L469.01,161.96 L470.19,162.36 L471.36,162.75 L472.54,163.13 L473.72,163.51 L474.90,163.88 L476.07,164.24 L477.25,164.60 L478.43,164.95 L479.60,165.29 L480.78,165.61 L481.96,165.94 L483.13,166.25 L484.31,166.55 L485.49,166.85 L486.67,167.14 L487.84,167.42 L489.02,167.70 L490.20,167.97 L491.37,168.23 L492.55,168.49 L493.73,168.75 L494.90,169.00 L496.08,169.24 L497.26,169.49 L498.44,169.73 L499.61,169.96 L500.79,170.20 L501.97,170.43 L503.14,170.66 L504.32,170.89 L505.50,171.11 L506.67,171.33 L507.85,171.55 L509.03,171.77 L510.21,171.98 L511.38,172.19 L512.56,172.40 L513.74,172.61 L514.91,172.81 L516.09,173.02 L517.27,173.22 L518.44,173.42 L519.62,173.62 L520.80,173.81 L521.98,174.01 L523.15,174.20 L524.33,174.40 L525.51,174.59 L526.68,174.78 L527.86,174.97 L529.04,175.16 L530.21,175.35 L531.39,175.54 L532.57,175.73 L533.75,175.92 L534.92,176.11 L536.10,176.30 L537.28,176.49 L538.45,176.67 L539.63,176.86 L540.81,177.04 L541.98,177.22 L543.16,177.40 L544.34,177.58 L545.52,177.75 L546.69,177.93 L547.87,178.10 L549.05,178.27 L550.22,178.44 L551.40,178.61 L552.58,178.78 L553.75,178.95 L554.93,179.12 L556.11,179.28 L557.29,179.45 L558.46,179.61 L559.64,179.78 L560.82,179.94 L561.99,180.11 L563.17,180.27 L564.35,180.44 L565.52,180.60 L566.70,180.76 L567.88,180.93 L569.06,181.09 L570.23,181.26 L571.41,181.42 L572.59,181.59 L573.76,181.75 L574.94,181.92 L576.12,182.08 L577.29,182.25 L578.47,182.41 L579.65,182.57 L580.83,182.73 L582.00,182.89 L583.18,183.05 L584.36,183.20 L585.53,183.35 L586.71,183.51 L587.89,183.66 L589.06,183.80 L590.24,183.95 L591.42,184.09 L592.60,184.23 L593.77,184.37 L594.95,184.50 L596.13,184.63 L597.30,184.76 L598.48,184.88 L599.66,185.01 L600.83,185.13 L602.01,185.24 L603.19,185.36 L604.37,185.47 L605.54,185.59 L606.72,185.70 L607.90,185.80 L609.07,185.91 L610.25,186.01 L611.43,186.12 L612.60,186.22 L613.78,186.32 L614.96,186.42 L616.14,186.52 L617.31,186.62 L618.49,186.72 L619.67,186.81 L620.84,186.91 L622.02,187.01 L623.20,187.10 L624.37,187.20 L625.55,187.30 L626.73,187.39 L627.91,187.48 L629.08,187.57 L630.26,187.66 L631.44,187.75 L632.61,187.83 L633.79,187.92 L634.97,188.00 L636.14,188.08 L637.32,188.17 L638.50,188.25 L639.68,188.33 L640.85,188.41 L642.03,188.49 L643.21,188.57 L644.38,188.65 L645.56,188.73 L646.74,188.81 L647.91,188.89 L649.09,188.97 L650.27,189.05 L651.45,189.13 L652.62,189.22 L653.80,189.30" fill="none" stroke="#0000ff" stroke-width="2"/>
<polygon points="418.40,138.90 415.60,133.86 421.20,133.86" fill="#0000ff"/>
<polygon points="424.28,142.86 421.48,137.82 427.08,137.82" fill="#0000ff"/>
<polygon points="430.17,146.83 427.37,141.79 432.97,141.79" fill="#0000ff"/>
<polygon points="436.06,150.50 433.25,145.46 438.86,145.46" fill="#0000ff"/>
<polygon points="441.94,153.80 439.14,148.76 444.74,148.76" fill="#0000ff"/>
<polygon points="447.82,156.82 445.02,151.78 450.62,151.78" fill="#0000ff"/>
<polygon points="453.71,159.50 450.91,154.46 456.51,154.46" fill="#0000ff"/>
<polygon points="459.59,161.90 456.79,156.86 462.39,156.86" fill="#0000ff"/>
<polygon points="465.48,164.12 462.68,159.08 468.28,159.08" fill="#0000ff"/>
<polygon points="471.37,166.15 468.56,161.11 474.17,161.11" fill="#0000ff"/>
<polygon points="477.25,168.00 474.45,162.96 480.05,162.96" fill="#0000ff"/>
<polygon points="483.13,169.65 480.33,164.61 485.93,164.61" fill="#0000ff"/>
<polygon points="489.02,171.10 486.22,166.06 491.82,166.06" fill="#0000ff"/>
<polygon points="494.91,172.40 492.11,167.36 497.71,167.36" fill="#0000ff"/>
<polygon points="500.79,173.60 497.99,168.56 503.59,168.56" fill="#0000ff"/>
<polygon points="506.67,174.73 503.87,169.69 509.47,169.69" fill="#0000ff"/>
<polygon points="512.56,175.80 509.76,170.76 515.36,170.76" fill="#0000ff"/>
<polygon points="518.44,176.82 515.64,171.78 521.24,171.78" fill="#0000ff"/>
<polygon points="524.33,177.80 521.53,172.76 527.13,172.76" fill="#0000ff"/>
<polygon points="530.22,178.75 527.42,173.71 533.01,173.71" fill="#0000ff"/>
<polygon points="536.10,179.70 533.30,174.66 538.90,174.66" fill="#0000ff"/>
<polygon points="541.98,180.62 539.18,175.58 544.78,175.58" fill="#0000ff"/>
<polygon points="547.87,181.50 545.07,176.46 550.67,176.46" fill="#0000ff"/>
<polygon points="553.75,182.35 550.96,177.31 556.55,177.31" fill="#0000ff"/>
<polygon points="559.64,183.18 556.84,178.14 562.44,178.14" fill="#0000ff"/>
<polygon points="565.52,184.00 562.73,178.96 568.32,178.96" fill="#0000ff"/>
<polygon points="571.41,184.82 568.61,179.78 574.21,179.78" fill="#0000ff"/>
<polygon points="577.29,185.65 574.50,180.61 580.09,180.61" fill="#0000ff"/>
<polygon points="583.18,186.45 580.38,181.41 585.98,181.41" fill="#0000ff"/>
<polygon points="589.06,187.20 586.26,182.16 591.86,182.16" fill="#0000ff"/>
<polygon points="594.95,187.90 592.15,182.86 597.75,182.86" fill="#0000ff"/>
<polygon points="600.83,188.53 598.03,183.49 603.63,183.49" fill="#0000ff"/>
<polygon points="606.72,189.10 603.92,184.06 609.52,184.06" fill="#0000ff"/>
<polygon points="612.61,189.62 609.81,184.58 615.40,184.58" fill="#0000ff"/>
<polygon points="618.49,190.12 615.69,185.08 621.29,185.08" fill="#0000ff"/>
<polygon points="624.38,190.60 621.58,185.56 627.17,185.56" fill="#0000ff"/>
<polygon points="630.26,191.06 627.46,186.02 633.06,186.02" fill="#0000ff"/>
<polygon points="636.14,191.48 633.35,186.44 638.94,186.44" fill="#0000ff"/>
<polygon points="642.03,191.89 639.23,186.85 644.83,186.85" fill="#0000ff"/>
<polygon points="647.91,192.29 645.12,187.25 650.71,187.25" fill="#0000ff"/>
<polygon points="653.80,192.70 651.00,187.66 656.60,187.66" fill="#0000ff"/>
<path d="M418.40,193.40 L419.58,193.39 L420.75,193.39 L421.93,193.38 L423.11,193.38 L424.28,193.37 L425.46,193.36 L426.64,193.36 L427.82,193.35 L428.99,193.34 L430.17,193.34 L431.35,193.33 L432.52,193.32 L433.70,193.31 L434.88,193.31 L436.05,193.30 L437.23,193.29 L438.41,193.29 L439.59,193.28 L440.76,193.27 L441.94,193.27 L443.12,193.26 L444.29,193.25 L445.47,193.24 L446.65,193.24 L447.82,193.23 L449.00,193.22 L450.18,193.22 L451.36,193.21 L452.53,193.20 L453.71,193.20 L454.89,193.19 L456.06,193.19 L457.24,193.18 L458.42,193.17 L459.59,193.17 L460.77,193.16 L461.95,193.16 L463.13,193.15 L464.30,193.15 L465.48,193.14 L466.66,193.14 L467.83,193.13 L469.01,193.13 L470.19,193.12 L471.36,193.12 L472.54,193.11 L473.72,193.11 L474.90,193.11 L476.07,193.10 L477.25,193.10 L478.43,193.10 L479.60,193.09 L480.78,193.09 L481.96,193.09 L483.13,193.09 L484.31,193.08 L485.49,193.08 L486.67,193.08 L487.84,193.08 L489.02,193.07 L490.20,193.07 L491.37,193.07 L492.55,193.07 L493.73,193.07 L494.90,193.07 L496.08,193.06 L497.26,193.06 L498.44,193.06 L499.61,193.06 L500.79,193.06 L501.97,193.06 L503.14,193.06 L504.32,193.06 L505.50,193.06 L506.67,193.06 L507.85,193.06 L509.03,193.06 L510.21,193.06 L511.38,193.06 L512.56,193.06 L513.74,193.06 L514.91,193.06 L516.09,193.06 L517.27,193.06 L518.44,193.06 L519.62,193.06 L520.80,193.06 L521.98,193.07 L523.15,193.07 L524.33,193.07 L525.51,193.07 L526.68,193.07 L527.86,193.08 L529.04,193.08 L530.21,193.08 L531.39,193.09 L532.57,193.09 L533.75,193.09 L534.92,193.10 L536.10,193.10 L537.28,193.10 L538.45,193.11 L539.63,193.11 L540.81,193.11 L541.98,193.12 L543.16,193.12 L544.34,193.12 L545.52,193.13 L546.69,193.13 L547.87,193.14 L549.05,193.14 L550.22,193.15 L551.40,193.16 L552.58,193.17 L553.75,193.18 L554.93,193.19 L556.11,193.21 L557.29,193.22 L558.46,193.24 L559.64,193.26 L560.82,193.29 L561.99,193.31 L563.17,193.34 L564.35,193.37 L565.52,193.40 L566.70,193.43 L567.88,193.47 L569.06,193.51 L570.23,193.55 L571.41,193.59 L572.59,193.63 L573.76,193.67 L574.94,193.72 L576.12,193.76 L577.29,193.81 L578.47,193.86 L579.65,193.92 L580.83,193.97 L582.00,194.03 L583.18,194.09 L584.36,194.15 L585.53,194.21 L586.71,194.28 L587.89,194.34 L589.06,194.41 L590.24,194.49 L591.42,194.56 L592.60,194.64 L593.77,194.72 L594.95,194.80 L596.13,194.89 L597.30,194.97 L598.48,195.07 L599.66,195.16 L600.83,195.26 L602.01,195.36 L603.19,195.46 L604.37,195.56 L605.54,195.67 L606.72,195.78 L607.90,195.89 L609.07,196.01 L610.25,196.12 L611.43,196.24 L612.60,196.36 L613.78,196.47 L614.96,196.60 L616.14,196.72 L617.31,196.84 L618.49,196.97 L619.67,197.09 L620.84,197.22 L622.02,197.34 L623.20,197.47 L624.37,197.60 L625.55,197.73 L626.73,197.86 L627.91,197.99 L629.08,198.13 L630.26,198.27 L631.44,198.41 L632.61,198.55 L633.79,198.69 L634.97,198.84 L636.14,198.98 L637.32,199.13 L638.50,199.28 L639.68,199.42 L640.85,199.57 L642.03,199.72 L643.21,199.87 L644.38,200.02 L645.56,200.17 L646.74,200.32 L647.91,200.47 L649.09,200.62 L650.27,200.76 L651.45,200.91 L652.62,201.06 L653.80,201.20" fill="none" stroke="#ff33ff" stroke-width="1.6"/>
<polygon points="426.50,193.37 422.54,191.17 422.54,195.57" fill="#5a5a5a"/>
<polygon points="430.10,193.35 425.96,191.05 425.96,195.65" fill="none" stroke="#ff70ff" stroke-width="0.8"/>
<polygon points="433.56,193.33 429.60,191.13 429.60,195.53" fill="#5a5a5a"/>
<polygon points="437.16,193.31 433.02,191.01 433.02,195.61" fill="none" stroke="#ff70ff" stroke-width="0.8"/>
<polygon points="440.62,193.29 436.66,191.09 436.66,195.49" fill="#5a5a5a"/>
<polygon points="444.22,193.27 440.08,190.97 440.08,195.57" fill="none" stroke="#ff70ff" stroke-width="0.8"/>
<polygon points="447.68,193.24 443.72,191.04 443.72,195.44" fill="#5a5a5a"/>
<polygon points="451.28,193.22 447.14,190.92 447.14,195.52" fill="none" stroke="#ff70ff" stroke-width="0.8"/>
<polygon points="454.74,193.20 450.78,191.00 450.78,195.40" fill="#5a5a5a"/>
<polygon points="458.34,193.19 454.20,190.89 454.20,195.49" fill="none" stroke="#ff70ff" stroke-width="0.8"/>
<polygon points="461.80,193.17 457.84,190.97 457.84,195.37" fill="#5a5a5a"/>
<polygon points="465.40,193.15 461.26,190.85 461.26,195.45" fill="none" stroke="#ff70ff" stroke-width="0.8"/>
<polygon points="468.86,193.14 464.90,190.94 464.90,195.34" fill="#5a5a5a"/>
<polygon points="472.46,193.12 468.32,190.82 468.32,195.42" fill="none" stroke="#ff70ff" stroke-width="0.8"/>
<polygon points="475.92,193.11 471.96,190.91 471.96,195.31" fill="#5a5a5a"/>
<polygon points="479.52,193.10 475.38,190.80 475.38,195.40" fill="none" stroke="#ff70ff" stroke-width="0.8"/>
<polygon points="482.98,193.09 479.02,190.89 479.02,195.29" fill="#5a5a5a"/>
<polygon points="486.58,193.08 482.44,190.78 482.44,195.38" fill="none" stroke="#ff70ff" stroke-width="0.8"/>
<polygon points="490.04,193.08 486.08,190.88 486.08,195.28" fill="#5a5a5a"/>
<polygon points="493.64,193.07 489.50,190.77 489.50,195.37" fill="none" stroke="#ff70ff" stroke-width="0.8"/>
<polygon points="497.10,193.07 493.14,190.87 493.14,195.27" fill="#5a5a5a"/>
<polygon points="500.70,193.06 496.56,190.76 496.56,195.36" fill="none" stroke="#ff70ff" stroke-width="0.8"/>
<polygon points="504.16,193.06 500.20,190.86 500.20,195.26" fill="#5a5a5a"/>
<polygon points="507.76,193.06 503.62,190.76 503.62,195.36" fill="none" stroke="#ff70ff" stroke-width="0.8"/>
<polygon points="511.22,193.06 507.26,190.86 507.26,195.26" fill="#5a5a5a"/>
<polygon points="514.82,193.06 510.68,190.76 510.68,195.36" fill="none" stroke="#ff70ff" stroke-width="0.8"/>
<polygon points="518.28,193.06 514.32,190.86 514.32,195.26" fill="#5a5a5a"/>
<polygon points="521.88,193.06 517.74,190.76 517.74,195.36" fill="none" stroke="#ff70ff" stroke-width="0.8"/>
<polygon points="525.34,193.07 521.38,190.87 521.38,195.27" fill="#5a5a5a"/>
<polygon points="528.94,193.07 524.80,190.77 524.80,195.37" fill="none" stroke="#ff70ff" stroke-width="0.8"/>
<polygon points="532.40,193.08 528.44,190.88 528.44,195.28" fill="#5a5a5a"/>
<polygon points="536.00,193.09 531.86,190.79 531.86,195.39" fill="none" stroke="#ff70ff" stroke-width="0.8"/>
<polygon points="539.46,193.10 535.50,190.90 535.50,195.30" fill="#5a5a5a"/>
<polygon points="543.06,193.11 538.92,190.81 538.92,195.41" fill="none" stroke="#ff70ff" stroke-width="0.8"/>
<polygon points="546.52,193.12 542.56,190.92 542.56,195.32" fill="#5a5a5a"/>
<polygon points="550.12,193.14 545.98,190.84 545.98,195.44" fill="none" stroke="#ff70ff" stroke-width="0.8"/>
<polygon points="553.58,193.16 549.62,190.96 549.62,195.36" fill="#5a5a5a"/>
<polygon points="557.18,193.19 553.04,190.89 553.04,195.49" fill="none" stroke="#ff70ff" stroke-width="0.8"/>
<polygon points="560.64,193.24 556.68,191.04 556.68,195.44" fill="#5a5a5a"/>
<polygon points="564.24,193.31 560.10,191.01 560.10,195.61" fill="none" stroke="#ff70ff" stroke-width="0.8"/>
<polygon points="567.70,193.40 563.74,191.20 563.74,195.60" fill="#5a5a5a"/>
<polygon points="571.30,193.51 567.16,191.21 567.16,195.81" fill="none" stroke="#ff70ff" stroke-width="0.8"/>
<polygon points="574.76,193.63 570.80,191.43 570.80,195.83" fill="#5a5a5a"/>
<polygon points="578.36,193.76 574.22,191.46 574.22,196.06" fill="none" stroke="#ff70ff" stroke-width="0.8"/>
<polygon points="581.82,193.92 577.86,191.72 577.86,196.12" fill="#5a5a5a"/>
<polygon points="585.42,194.08 581.28,191.78 581.28,196.38" fill="none" stroke="#ff70ff" stroke-width="0.8"/>
<polygon points="588.88,194.27 584.92,192.07 584.92,196.47" fill="#5a5a5a"/>
<polygon points="592.48,194.48 588.34,192.18 588.34,196.78" fill="none" stroke="#ff70ff" stroke-width="0.8"/>
<polygon points="595.94,194.72 591.98,192.52 591.98,196.92" fill="#5a5a5a"/>
<polygon points="599.54,194.97 595.40,192.67 595.40,197.27" fill="none" stroke="#ff70ff" stroke-width="0.8"/>
<polygon points="603.00,195.25 599.04,193.05 599.04,197.45" fill="#5a5a5a"/>
<polygon points="606.60,195.56 602.46,193.26 602.46,197.86" fill="none" stroke="#ff70ff" stroke-width="0.8"/>
<polygon points="610.06,195.89 606.10,193.69 606.10,198.09" fill="#5a5a5a"/>
<polygon points="613.66,196.23 609.52,193.93 609.52,198.53" fill="none" stroke="#ff70ff" stroke-width="0.8"/>
<polygon points="617.12,196.59 613.16,194.39 613.16,198.79" fill="#5a5a5a"/>
<polygon points="620.72,196.96 616.58,194.66 616.58,199.26" fill="none" stroke="#ff70ff" stroke-width="0.8"/>
<polygon points="624.18,197.34 620.22,195.14 620.22,199.54" fill="#5a5a5a"/>
<polygon points="627.78,197.72 623.64,195.42 623.64,200.02" fill="none" stroke="#ff70ff" stroke-width="0.8"/>
<polygon points="631.24,198.13 627.28,195.93 627.28,200.33" fill="#5a5a5a"/>
<polygon points="634.84,198.54 630.70,196.24 630.70,200.84" fill="none" stroke="#ff70ff" stroke-width="0.8"/>
<polygon points="638.30,198.98 634.34,196.78 634.34,201.18" fill="#5a5a5a"/>
<polygon points="641.90,199.41 637.76,197.11 637.76,201.71" fill="none" stroke="#ff70ff" stroke-width="0.8"/>
<polygon points="645.36,199.86 641.40,197.66 641.40,202.06" fill="#5a5a5a"/>
<polygon points="648.96,200.31 644.82,198.01 644.82,202.61" fill="none" stroke="#ff70ff" stroke-width="0.8"/>
<polygon points="652.42,200.76 648.46,198.56 648.46,202.96" fill="#5a5a5a"/>
<polygon points="656.02,201.19 651.88,198.89 651.88,203.49" fill="none" stroke="#ff70ff" stroke-width="0.8"/>
<polygon points="418.50,193.39 422.64,191.09 422.64,195.69" fill="none" stroke="#ff80ff" stroke-width="0.8"/>
<line x1="418.40" y1="46.3" x2="653.80" y2="46.4" stroke="#8000a0" stroke-width="1.2"/>
<polygon points="420.50,46.35 423.92,44.45 423.92,48.25" fill="#8000a0"/>
<polygon points="427.56,46.35 430.98,44.45 430.98,48.25" fill="#8000a0"/>
<polygon points="434.62,46.35 438.04,44.45 438.04,48.25" fill="#8000a0"/>
<polygon points="441.68,46.35 445.10,44.45 445.10,48.25" fill="#8000a0"/>
<polygon points="448.74,46.35 452.16,44.45 452.16,48.25" fill="#8000a0"/>
<polygon points="455.80,46.35 459.22,44.45 459.22,48.25" fill="#8000a0"/>
<polygon points="462.86,46.35 466.28,44.45 466.28,48.25" fill="#8000a0"/>
<polygon points="469.92,46.35 473.34,44.45 473.34,48.25" fill="#8000a0"/>
<polygon points="476.98,46.35 480.40,44.45 480.40,48.25" fill="#8000a0"/>
<polygon points="484.04,46.35 487.46,44.45 487.46,48.25" fill="#8000a0"/>
<polygon points="491.10,46.35 494.52,44.45 494.52,48.25" fill="#8000a0"/>
<polygon points="498.16,46.35 501.58,44.45 501.58,48.25" fill="#8000a0"/>
<polygon points="505.22,46.35 508.64,44.45 508.64,48.25" fill="#8000a0"/>
<polygon points="512.28,46.35 515.70,44.45 515.70,48.25" fill="#8000a0"/>
<polygon points="519.34,46.35 522.76,44.45 522.76,48.25" fill="#8000a0"/>
<polygon points="526.40,46.35 529.82,44.45 529.82,48.25" fill="#8000a0"/>
<polygon points="533.46,46.35 536.88,44.45 536.88,48.25" fill="#8000a0"/>
<polygon points="540.52,46.35 543.94,44.45 543.94,48.25" fill="#8000a0"/>
<polygon points="547.58,46.35 551.00,44.45 551.00,48.25" fill="#8000a0"/>
<polygon points="554.64,46.35 558.06,44.45 558.06,48.25" fill="#8000a0"/>
<polygon points="561.70,46.35 565.12,44.45 565.12,48.25" fill="#8000a0"/>
<polygon points="568.76,46.35 572.18,44.45 572.18,48.25" fill="#8000a0"/>
<polygon points="575.82,46.35 579.24,44.45 579.24,48.25" fill="#8000a0"/>
<polygon points="582.88,46.35 586.30,44.45 586.30,48.25" fill="#8000a0"/>
<polygon points="589.94,46.35 593.36,44.45 593.36,48.25" fill="#8000a0"/>
<polygon points="597.00,46.35 600.42,44.45 600.42,48.25" fill="#8000a0"/>
<polygon points="604.06,46.35 607.48,44.45 607.48,48.25" fill="#8000a0"/>
<polygon points="611.12,46.35 614.54,44.45 614.54,48.25" fill="#8000a0"/>
<polygon points="618.18,46.35 621.60,44.45 621.60,48.25" fill="#8000a0"/>
<polygon points="625.24,46.35 628.66,44.45 628.66,48.25" fill="#8000a0"/>
<polygon points="632.30,46.35 635.72,44.45 635.72,48.25" fill="#8000a0"/>
<polygon points="639.36,46.35 642.78,44.45 642.78,48.25" fill="#8000a0"/>
<polygon points="646.42,46.35 649.84,44.45 649.84,48.25" fill="#8000a0"/>
<polygon points="653.48,46.35 656.90,44.45 656.90,48.25" fill="#8000a0"/>
<line x1="418.40" y1="46.3" x2="653.80" y2="46.4" stroke="#ff8c1a" stroke-width="1.8"/>
<polygon points="417.30,46.35 420.60,43.7 420.60,49.0" fill="#ff8c1a"/>
<polygon points="424.36,46.35 427.66,43.7 427.66,49.0" fill="#ff8c1a"/>
<polygon points="431.42,46.35 434.72,43.7 434.72,49.0" fill="#ff8c1a"/>
<polygon points="438.48,46.35 441.78,43.7 441.78,49.0" fill="#ff8c1a"/>
<polygon points="445.54,46.35 448.84,43.7 448.84,49.0" fill="#ff8c1a"/>
<polygon points="452.60,46.35 455.90,43.7 455.90,49.0" fill="#ff8c1a"/>
<polygon points="459.66,46.35 462.96,43.7 462.96,49.0" fill="#ff8c1a"/>
<polygon points="466.72,46.35 470.02,43.7 470.02,49.0" fill="#ff8c1a"/>
<polygon points="473.78,46.35 477.08,43.7 477.08,49.0" fill="#ff8c1a"/>
<polygon points="480.84,46.35 484.14,43.7 484.14,49.0" fill="#ff8c1a"/>
<polygon points="487.90,46.35 491.20,43.7 491.20,49.0" fill="#ff8c1a"/>
<polygon points="494.96,46.35 498.26,43.7 498.26,49.0" fill="#ff8c1a"/>
<polygon points="502.02,46.35 505.32,43.7 505.32,49.0" fill="#ff8c1a"/>
<polygon points="509.08,46.35 512.38,43.7 512.38,49.0" fill="#ff8c1a"/>
<polygon points="516.14,46.35 519.44,43.7 519.44,49.0" fill="#ff8c1a"/>
<polygon points="523.20,46.35 526.50,43.7 526.50,49.0" fill="#ff8c1a"/>
<polygon points="530.26,46.35 533.56,43.7 533.56,49.0" fill="#ff8c1a"/>
<polygon points="537.32,46.35 540.62,43.7 540.62,49.0" fill="#ff8c1a"/>
<polygon points="544.38,46.35 547.68,43.7 547.68,49.0" fill="#ff8c1a"/>
<polygon points="551.44,46.35 554.74,43.7 554.74,49.0" fill="#ff8c1a"/>
<polygon points="558.50,46.35 561.80,43.7 561.80,49.0" fill="#ff8c1a"/>
<polygon points="565.56,46.35 568.86,43.7 568.86,49.0" fill="#ff8c1a"/>
<polygon points="572.62,46.35 575.92,43.7 575.92,49.0" fill="#ff8c1a"/>
<polygon points="579.68,46.35 582.98,43.7 582.98,49.0" fill="#ff8c1a"/>
<polygon points="586.74,46.35 590.04,43.7 590.04,49.0" fill="#ff8c1a"/>
<polygon points="593.80,46.35 597.10,43.7 597.10,49.0" fill="#ff8c1a"/>
<polygon points="600.86,46.35 604.16,43.7 604.16,49.0" fill="#ff8c1a"/>
<polygon points="607.92,46.35 611.22,43.7 611.22,49.0" fill="#ff8c1a"/>
<polygon points="614.98,46.35 618.28,43.7 618.28,49.0" fill="#ff8c1a"/>
<polygon points="622.04,46.35 625.34,43.7 625.34,49.0" fill="#ff8c1a"/>
<polygon points="629.10,46.35 632.40,43.7 632.40,49.0" fill="#ff8c1a"/>
<polygon points="636.16,46.35 639.46,43.7 639.46,49.0" fill="#ff8c1a"/>
<polygon points="643.22,46.35 646.52,43.7 646.52,49.0" fill="#ff8c1a"/>
<polygon points="650.28,46.35 653.58,43.7 653.58,49.0" fill="#ff8c1a"/>
</g>
<path d="M653.80,14.70 L418.40,14.70 L418.40,204.40 L653.80,204.40" fill="none" stroke="#000" stroke-width="1.4"/>
<line x1="653.80" y1="14.00" x2="653.80" y2="205.10" stroke="#6a6a6a" stroke-width="1.6"/>
<line x1="418.40" y1="204.40" x2="418.40" y2="201.40" stroke="#000" stroke-width="1"/>
<line x1="447.82" y1="204.40" x2="447.82" y2="202.40" stroke="#000" stroke-width="1"/>
<line x1="477.25" y1="204.40" x2="477.25" y2="201.40" stroke="#000" stroke-width="1"/>
<line x1="506.67" y1="204.40" x2="506.67" y2="202.40" stroke="#000" stroke-width="1"/>
<line x1="536.10" y1="204.40" x2="536.10" y2="201.40" stroke="#000" stroke-width="1"/>
<line x1="565.52" y1="204.40" x2="565.52" y2="202.40" stroke="#000" stroke-width="1"/>
<line x1="594.95" y1="204.40" x2="594.95" y2="201.40" stroke="#000" stroke-width="1"/>
<line x1="624.38" y1="204.40" x2="624.38" y2="202.40" stroke="#000" stroke-width="1"/>
<line x1="653.80" y1="204.40" x2="653.80" y2="201.40" stroke="#000" stroke-width="1"/>
<line x1="418.40" y1="14.70" x2="421.40" y2="14.70" stroke="#000" stroke-width="1"/>
<line x1="418.40" y1="30.51" x2="420.40" y2="30.51" stroke="#000" stroke-width="1"/>
<line x1="418.40" y1="46.32" x2="421.40" y2="46.32" stroke="#000" stroke-width="1"/>
<line x1="418.40" y1="62.12" x2="420.40" y2="62.12" stroke="#000" stroke-width="1"/>
<line x1="418.40" y1="77.93" x2="421.40" y2="77.93" stroke="#000" stroke-width="1"/>
<line x1="418.40" y1="93.74" x2="420.40" y2="93.74" stroke="#000" stroke-width="1"/>
<line x1="418.40" y1="109.55" x2="421.40" y2="109.55" stroke="#000" stroke-width="1"/>
<line x1="418.40" y1="125.36" x2="420.40" y2="125.36" stroke="#000" stroke-width="1"/>
<line x1="418.40" y1="141.17" x2="421.40" y2="141.17" stroke="#000" stroke-width="1"/>
<line x1="418.40" y1="156.97" x2="420.40" y2="156.97" stroke="#000" stroke-width="1"/>
<line x1="418.40" y1="172.78" x2="421.40" y2="172.78" stroke="#000" stroke-width="1"/>
<line x1="418.40" y1="188.59" x2="420.40" y2="188.59" stroke="#000" stroke-width="1"/>
<line x1="418.40" y1="204.40" x2="421.40" y2="204.40" stroke="#000" stroke-width="1"/>
<line x1="653.80" y1="14.70" x2="650.80" y2="14.70" stroke="#6a6a6a" stroke-width="1"/>
<line x1="653.80" y1="26.56" x2="651.80" y2="26.56" stroke="#6a6a6a" stroke-width="1"/>
<line x1="653.80" y1="38.41" x2="650.80" y2="38.41" stroke="#6a6a6a" stroke-width="1"/>
<line x1="653.80" y1="50.27" x2="651.80" y2="50.27" stroke="#6a6a6a" stroke-width="1"/>
<line x1="653.80" y1="62.12" x2="650.80" y2="62.12" stroke="#6a6a6a" stroke-width="1"/>
<line x1="653.80" y1="73.98" x2="651.80" y2="73.98" stroke="#6a6a6a" stroke-width="1"/>
<line x1="653.80" y1="85.84" x2="650.80" y2="85.84" stroke="#6a6a6a" stroke-width="1"/>
<line x1="653.80" y1="97.69" x2="651.80" y2="97.69" stroke="#6a6a6a" stroke-width="1"/>
<line x1="653.80" y1="109.55" x2="650.80" y2="109.55" stroke="#6a6a6a" stroke-width="1"/>
<line x1="653.80" y1="121.41" x2="651.80" y2="121.41" stroke="#6a6a6a" stroke-width="1"/>
<line x1="653.80" y1="133.26" x2="650.80" y2="133.26" stroke="#6a6a6a" stroke-width="1"/>
<line x1="653.80" y1="145.12" x2="651.80" y2="145.12" stroke="#6a6a6a" stroke-width="1"/>
<line x1="653.80" y1="156.97" x2="650.80" y2="156.97" stroke="#6a6a6a" stroke-width="1"/>
<line x1="653.80" y1="168.83" x2="651.80" y2="168.83" stroke="#6a6a6a" stroke-width="1"/>
<line x1="653.80" y1="180.69" x2="650.80" y2="180.69" stroke="#6a6a6a" stroke-width="1"/>
<line x1="653.80" y1="192.54" x2="651.80" y2="192.54" stroke="#6a6a6a" stroke-width="1"/>
<line x1="653.80" y1="204.40" x2="650.80" y2="204.40" stroke="#6a6a6a" stroke-width="1"/>
<text x="414.2" y="20.10" text-anchor="end" class="br">5</text>
<text x="414.2" y="51.72" text-anchor="end" class="br">0</text>
<text x="414.2" y="83.33" text-anchor="end" class="br">−5</text>
<text x="414.2" y="114.95" text-anchor="end" class="br">−10</text>
<text x="414.2" y="146.57" text-anchor="end" class="br">−15</text>
<text x="414.2" y="178.18" text-anchor="end" class="br">−20</text>
<text x="414.2" y="209.80" text-anchor="end" class="br">−25</text>
<text x="657.8" y="20.10" class="br">200</text>
<text x="657.8" y="43.81" class="br">150</text>
<text x="657.8" y="67.53" class="br">100</text>
<text x="657.8" y="91.24" class="br">50</text>
<text x="657.8" y="114.95" class="br">0</text>
<text x="657.8" y="138.66" class="br">−50</text>
<text x="657.8" y="162.38" class="br">−100</text>
<text x="657.8" y="186.09" class="br">−150</text>
<text x="657.8" y="209.80" class="br">−200</text>
<text x="418.40" y="221.5" text-anchor="middle" class="br">8</text>
<text x="477.25" y="221.5" text-anchor="middle" class="br">9</text>
<text x="536.10" y="221.5" text-anchor="middle" class="br">10</text>
<text x="594.95" y="221.5" text-anchor="middle" class="br">11</text>
<text x="653.80" y="221.5" text-anchor="middle" class="br">12</text>
<text x="535.5" y="238" text-anchor="middle" class="br" style="font-size:17px;letter-spacing:0.2px">Frequency(GHz)</text>
<text transform="translate(384.3,110) rotate(-90)" text-anchor="middle" class="br">Amplitude(dB)</text>
<text transform="translate(696.6,106.6) rotate(-90)" text-anchor="middle" class="br">Phase(°)</text>
<line x1="477.5" y1="36.60" x2="514.5" y2="36.60" stroke="#8000a0" stroke-width="1.5"/>
<polygon points="493.90,36.60 498.04,34.30 498.04,38.90" fill="#8000a0"/>
<text x="519.6" y="41.70" class="ri">R<tspan font-size="10.5px">uu</tspan></text>
<line x1="477.5" y1="57.10" x2="514.5" y2="57.10" stroke="#555555" stroke-width="1.5"/>
<polygon points="499.00,57.10 493.96,54.30 493.96,59.90" fill="#555"/>
<text x="519.6" y="62.20" class="ri">R<tspan font-size="10.5px">vu</tspan></text>
<line x1="477.5" y1="77.50" x2="514.5" y2="77.50" stroke="#ff33ff" stroke-width="1.5"/>
<polygon points="493.70,77.50 498.20,75.00 498.20,80.00" fill="#fff" stroke="#ff33ff" stroke-width="0.8"/>
<text x="519.6" y="82.60" class="ri">R<tspan font-size="10.5px">uv</tspan></text>
<line x1="477.5" y1="97.90" x2="514.5" y2="97.90" stroke="#ff8c1a" stroke-width="1.5"/>
<polygon points="493.60,97.90 498.28,95.30 498.28,100.50" fill="#ff8c1a"/>
<text x="519.6" y="103.00" class="ri">R<tspan font-size="10.5px">vv</tspan></text>
<line x1="477.5" y1="118.30" x2="514.5" y2="118.30" stroke="#000" stroke-width="1.5"/>
<polygon points="496.20,115.40 493.80,119.72 498.60,119.72" fill="#000"/>
<text x="519.6" y="123.40" class="ri">R<tspan font-size="10.5px">uu</tspan></text>
<text x="555.0" y="123.60" class="rl">(</text>
<text x="561.6" y="123.60" class="rl">phase</text>
<text x="600.6" y="123.60" class="rl">)</text>
<line x1="477.5" y1="138.80" x2="514.5" y2="138.80" stroke="#0000ff" stroke-width="1.5"/>
<polygon points="496.20,141.90 493.60,137.22 498.80,137.22" fill="#0000ff"/>
<text x="519.6" y="143.90" class="ri">R<tspan font-size="10.5px">vv</tspan></text>
<text x="555.0" y="144.10" class="rl">(</text>
<text x="561.6" y="144.10" class="rl">phase</text>
<text x="600.6" y="144.10" class="rl">)</text>
<line x1="477.5" y1="159.20" x2="514.5" y2="159.20" stroke="#ff3b3b" stroke-width="1.5"/>
<circle cx="496.2" cy="159.20" r="1.9" fill="#fff" stroke="#ff3b3b" stroke-width="1"/>
<text x="519.6" y="165.00" class="rl" style="letter-spacing:0.28px">phase difference</text>
<ellipse cx="551.70" cy="26.40" rx="4.40" ry="10.50" fill="none" stroke="#ff0000" stroke-width="2.2"/>
<line x1="556.50" y1="25.40" x2="578.60" y2="25.40" stroke="#ff0000" stroke-width="1.2"/><polygon points="583.60,25.40 577.60,23.20 578.08,25.40 577.60,27.60" fill="#ff0000"/>
<ellipse cx="476.00" cy="50.00" rx="4.60" ry="11.50" fill="none" stroke="#000" stroke-width="2.2"/>
<line x1="471.50" y1="53.80" x2="458.00" y2="53.80" stroke="#000" stroke-width="2.3"/><polygon points="446.00,53.80 459.00,50.40 457.96,53.80 459.00,57.20" fill="#000"/>
<ellipse cx="597.00" cy="114.00" rx="4.20" ry="14.60" fill="none" stroke="#ff0000" stroke-width="2.2"/>
<line x1="601.50" y1="105.30" x2="617.50" y2="105.30" stroke="#ff0000" stroke-width="2.2"/><polygon points="630.50,105.30 616.50,101.90 617.62,105.30 616.50,108.70" fill="#ff0000"/>
<ellipse cx="462.90" cy="191.00" rx="4.30" ry="10.80" fill="none" stroke="#000" stroke-width="2.2"/>
<line x1="458.50" y1="185.30" x2="446.30" y2="185.30" stroke="#000" stroke-width="2.3"/><polygon points="433.30,185.30 447.30,182.00 446.18,185.30 447.30,188.60" fill="#000"/>
<ellipse cx="599.50" cy="179.00" rx="4.40" ry="11.60" fill="none" stroke="#ff0000" stroke-width="2.2"/>
<line x1="604.20" y1="176.70" x2="621.30" y2="176.70" stroke="#ff0000" stroke-width="2.2"/><polygon points="633.80,176.70 620.30,173.40 621.38,176.70 620.30,180.00" fill="#ff0000"/>
<text x="167.7" y="285.8" text-anchor="middle" class="cap">(<tspan font-weight="bold">a</tspan>)</text>
<text x="529.5" y="285.8" text-anchor="middle" class="cap">(<tspan font-weight="bold">b</tspan>)</text>
</svg>
</body></html>
